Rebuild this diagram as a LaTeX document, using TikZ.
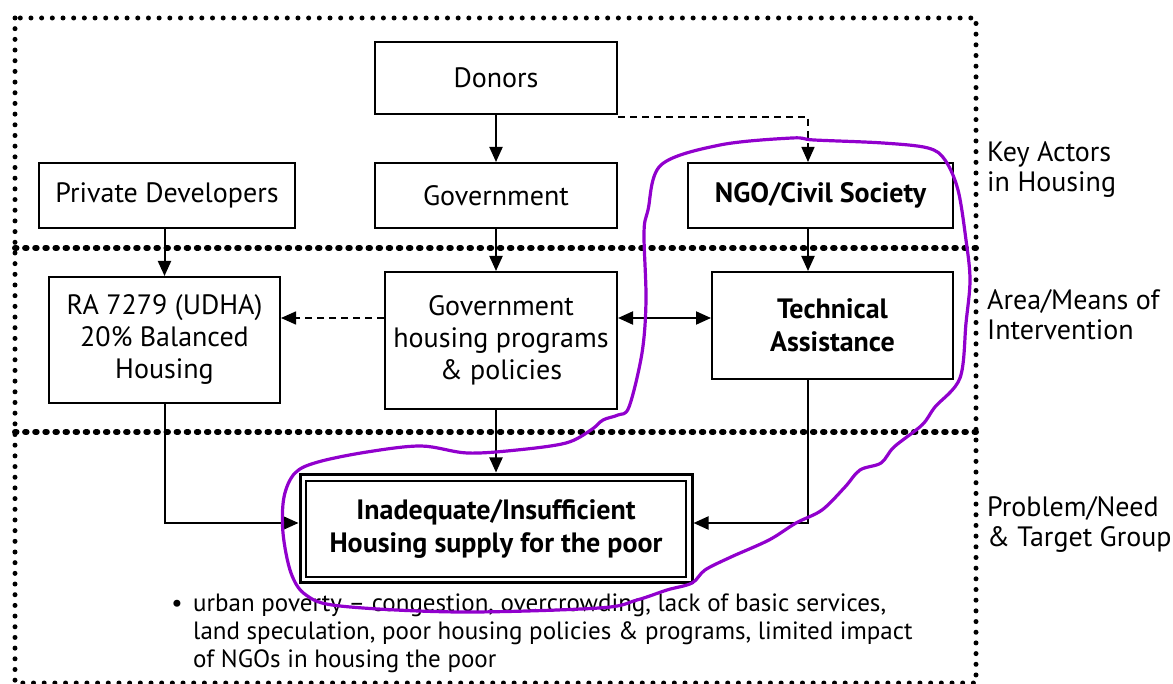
\documentclass[tikz,border=0pt]{standalone}
\usepackage{fontspec}
\setmainfont{PT Sans}
\usetikzlibrary{arrows.meta,calc}

\definecolor{hlpurple}{RGB}{145,0,205}

\begin{document}
\begin{tikzpicture}[x=1pt,y=-1pt,
  box/.style={draw,line width=2pt,inner sep=0pt,align=center,
              font=\fontsize{28}{32}\selectfont},
  arr/.style={line width=2pt,-{Triangle[length=15pt,width=13pt]}},
  darr/.style={line width=2pt,{Triangle[length=15pt,width=13pt]}-{Triangle[length=15pt,width=13pt]}},
  dashline/.style={line width=1.5pt,dash pattern=on 7pt off 5pt},
  frame/.style={line width=5pt,line cap=round,dash pattern=on 0pt off 10.68pt},
  divider/.style={line width=6pt,line cap=round,dash pattern=on 1.5pt off 8.6pt},
  lbl/.style={anchor=base west,align=left,inner sep=0pt,
              font=\fontsize{28}{30}\selectfont},
]
\useasboundingbox (0,0) rectangle (1173,684);

% outer frame and level dividers
\draw[frame] (15,18) rectangle (976,683);
\draw[divider] (15,248) -- (976,248);
\draw[divider] (15,432) -- (976,432);

% key actors
\node[box,minimum width=242,minimum height=72] (donors) at (496,78) {Donors};
\node[box,minimum width=256,minimum height=65] (pd) at (167,195.5) {Private Developers};
\node[box,minimum width=242,minimum height=65] (gov) at (496,195.5) {Government};
\node[box,minimum width=265,minimum height=65,font=\fontsize{28}{32}\selectfont\bfseries] (ngo) at (820.5,195.5) {NGO/Civil Society};

% means of intervention
\node[box,minimum width=231,minimum height=126] (ra) at (164.5,340) {RA 7279 (UDHA)\\20\% Balanced\\Housing};
\node[box,minimum width=232,minimum height=137] (gh) at (501,340.5) {Government\\housing programs\\\& policies};
\node[box,minimum width=241,minimum height=107,font=\fontsize{28}{33}\selectfont\bfseries] (tech) at (832.5,325.5) {Technical\\Assistance};

% problem / target group
\node[box,line width=3pt,minimum width=392,minimum height=108] (inad) at (496,528) {};
\node[box,line width=2pt,minimum width=380,minimum height=96,font=\fontsize{28}{33}\selectfont\bfseries] (inadin) at (496,529) {Inadequate/Insufficient\\Housing supply for the poor};

% level labels (anchored on the baseline of their last line)
\node[lbl] (l1) at (987,192) {Key Actors\\in Housing};
\node[lbl] (l2) at (987,340) {Area/Means of\\Intervention};
\node[lbl] (l3) at (987,546) {Problem/Need\\\& Target Group};

% causes
\node[anchor=base,inner sep=0pt,font=\fontsize{25}{28}\selectfont] (dot) at (177,611) {•};
\node[anchor=base west,align=left,inner sep=0pt,font=\fontsize{25}{28}\selectfont] (causes) at (193,667)
  {urban poverty – congestion, overcrowding, lack of basic services,\\
   land speculation, poor housing policies \& programs, limited impact\\
   of NGOs in housing the poor};

% connectors
\coordinate (lane) at (808,0);
\coordinate (side) at (0,318);
\coordinate (low) at (0,523);
\draw[arr] (donors) -- (gov);
\draw[arr] (pd.south -| ra.north) -- (ra.north);
\draw[arr] (gov.south) -- (gov.south |- gh.north);
\draw[arr] (ngo.south -| lane) -- (tech.north -| lane);
\draw[arr,dashline] ([yshift=-2pt]donors.south east) -| (ngo.north -| lane);
\draw[arr,dashline] (gh.west |- side) -- (ra.east |- side);
\draw[darr] (gh.east |- side) -- (tech.west |- side);
\draw[arr] (gh.south -| inad.north) -- (inad.north);
\draw[arr] (ra.south) |- (inad.west |- low);
\draw[arr] (tech.south -| lane) |- (inad.east |- low);

% hand-drawn highlight loop
\draw[hlpurple,line width=3.2pt,line join=round] plot[smooth cycle,tension=0.55] coordinates {
  (661,165) (720,145) (792,138) (814,140) (883,143) (928,148) (945,160)
  (958,190) (966,240) (970,280) (966,323) (960,378) (935,407) (922,425)
  (894,447) (881,463) (860,470) (845,487) (822,510) (796,523) (769,540)
  (731,557) (705,570) (692,583) (667,590) (637,600) (599,608) (459,612)
  (340,606) (306,595) (291,573) (283,533) (284,497) (295,473) (318,462)
  (367,452) (421,446) (467,453) (517,450) (566,443) (591,430) (603,420)
  (618,415) (629,407) (642,353) (646,300) (644,233) (648,210)};
\end{tikzpicture}
\end{document}
